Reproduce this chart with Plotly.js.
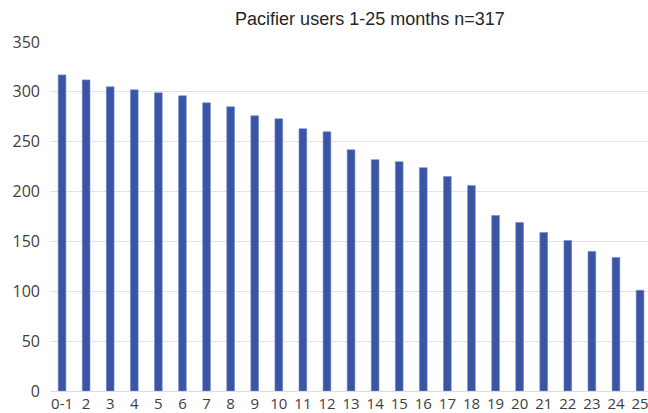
<!DOCTYPE html>
<html>
<head>
<meta charset="utf-8">
<script src="https://cdn.plot.ly/plotly-3.0.1.min.js"></script>
<style>html,body{margin:0;padding:0;background:#fff;}#chart{width:648px;height:413px;}</style>
</head>
<body>
<div id="chart"></div>
<script>
const months = ["0-1","2","3","4","5","6","7","8","9","10","11","12","13","14","15","16","17","18","19","20","21","22","23","24","25"];
const users = [317,312,305,302,299,296,289,285,276,273,263,260,242,232,230,224,215,206,176,169,159,151,140,134,101];
const yTicks = [0,50,100,150,200,250,300,350];
const chartTitle = "Pacifier users 1-25 months n=317";

const trace = {
  type: "bar",
  x: months,
  y: users,
  marker: {color: "#3a55a5", line: {color: "#6f86c4", width: 0.6}},
  hoverinfo: "x+y"
};

const layout = {
  width: 648, height: 413,
  margin: {l: 50, r: 0, t: 42, b: 22, pad: 0},
  paper_bgcolor: "#ffffff", plot_bgcolor: "#ffffff",
  bargap: 0.68,
  showlegend: false,
  title: {
    text: chartTitle,
    font: {family: "Liberation Sans, Arial, sans-serif", size: 18, color: "#262626"},
    x: 0.535, xanchor: "center", xref: "paper",
    y: 1 - 19/413, yanchor: "middle", yref: "container"
  },
  xaxis: {
    type: "category",
    range: [-0.5, 24.33],
    showgrid: false, zeroline: false, showline: false,
    ticks: "", automargin: false,
    tickfont: {family: "Open Sans, Liberation Sans, sans-serif", size: 15, color: "#404040"},
    ticklabelstandoff: 2
  },
  yaxis: {
    range: [0, 350],
    tickvals: yTicks,
    ticktext: yTicks.map(String),
    showgrid: true, gridcolor: "#e4e4e4", gridwidth: 1,
    zeroline: true, zerolinecolor: "#dcdcdc", zerolinewidth: 1,
    showline: false, ticks: "", automargin: false,
    tickfont: {family: "Open Sans, Liberation Sans, sans-serif", size: 16, color: "#404040"},
    ticklabelstandoff: 9
  }
};

Plotly.newPlot("chart", [trace], layout, {displayModeBar: false, staticPlot: true});
</script>
</body>
</html>
